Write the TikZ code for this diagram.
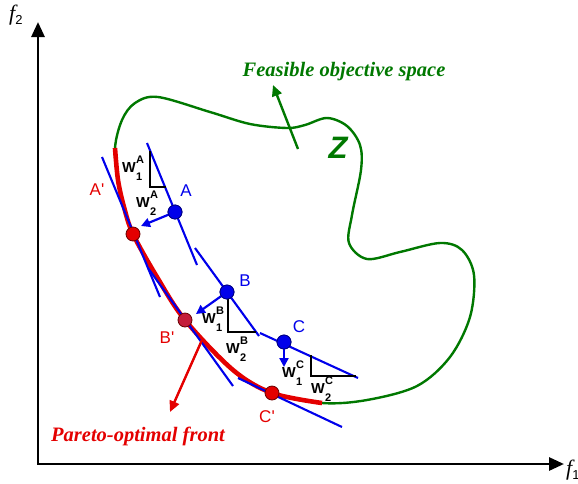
\documentclass[tikz,border=0pt]{standalone}
\usepackage{fontspec}
\setmainfont{Liberation Serif}
\newfontfamily\arialf{Liberation Sans}
\usetikzlibrary{arrows.meta}
\definecolor{pblue}{RGB}{0,0,235}
\definecolor{pred}{RGB}{228,0,0}
\definecolor{pgreen}{RGB}{0,120,0}
\definecolor{pcrim}{RGB}{196,28,58}
\newcommand\wlab[2]{W\kern0.3pt\makebox[0pt][l]{\raisebox{9pt}{\fontsize{11}{11}\selectfont #1}}\raisebox{-8pt}{\fontsize{11}{11}\selectfont #2}}
\begin{document}
\begin{tikzpicture}[x=1pt,y=-1pt,
  axisline/.style={line width=2.8pt,{Triangle[length=15pt,width=13pt]}-{Triangle[length=15pt,width=13pt]}},
  bline/.style={pblue,line width=2.1pt},
  tri/.style={black,line width=2pt},
  barrow/.style={pblue,line width=2.2pt,-{Triangle[length=9pt,width=9pt]}},
  bpt/.style={circle,fill=pblue,draw=pblue!55!black,line width=0.8pt,minimum size=14pt,inner sep=0pt},
  rpt/.style={circle,fill=pred,draw=pred!45!black,line width=0.8pt,minimum size=14pt,inner sep=0pt},
  lblB/.style={text=pblue,font=\arialf\fontsize{17}{17}\selectfont,inner sep=0pt},
  lblR/.style={text=pred,font=\arialf\fontsize{17}{17}\selectfont,inner sep=0pt},
  wl/.style={font=\arialf\bfseries\fontsize{14.5}{14.5}\selectfont,inner sep=0pt,anchor=base west},
  big/.style={font=\bfseries\itshape\fontsize{20.5}{20.5}\selectfont,inner sep=0pt,anchor=base}
]
\useasboundingbox (0,0) rectangle (578,483);
% axes
\coordinate (vtip) at (38,22);
\coordinate (htip) at (564,464);
\draw[axisline] (vtip) |- (htip);
\node[anchor=base west,inner sep=0pt] (f2) at (9,20) {\fontsize{22}{22}\selectfont\itshape f\raisebox{-4pt}{\upshape\arialf\fontsize{13}{13}\selectfont 2}};
\node[anchor=base west,inner sep=0pt] (f1) at (566,475) {\fontsize{22}{22}\selectfont\itshape f\raisebox{-4pt}{\upshape\arialf\fontsize{13}{13}\selectfont 1}};
% feasible region boundary
\draw[pgreen,line width=2.4pt] plot[smooth cycle,tension=0.55] coordinates {
(115,148) (122,120) (135,103) (158,97) (210,112) (250,124) (287,128) (305,125) (327,118) (347,126) (360,145) (361,170) (352,215) (349,243) (367,259) (400,252) (440,243) (462,250) (474,275) (470,317) (450,357) (417,386) (367,400) (322,403) (272,393) (233,370) (185,320) (157,277) (133,234) (124,207) (118,180)};
% Pareto front
\draw[pred,line width=4.6pt] plot[smooth,tension=0.55] coordinates {
(115,148) (118,180) (124,207) (133,234) (157,277) (185,320) (233,370) (272,393) (322,403)};
% coordinates for lines
\coordinate (la1) at (147,143); \coordinate (la2) at (197,265);
\coordinate (lb1) at (195,248); \coordinate (lb2) at (259,336);
\coordinate (lc1) at (260,333); \coordinate (lc2) at (358,378);
\coordinate (ta1) at (102,157); \coordinate (ta2) at (160,297);
\coordinate (tb1) at (148,268); \coordinate (tb2) at (233,386);
\coordinate (tc1) at (238,378); \coordinate (tc2) at (342,427);
\draw[bline] (la1) -- (la2);
\draw[bline] (lb1) -- (lb2);
\draw[bline] (lc1) -- (lc2);
\draw[bline] (ta1) -- (ta2);
\draw[bline] (tb1) -- (tb2);
\draw[bline] (tc1) -- (tc2);
% triangles
\coordinate (a1) at (150,151); \coordinate (a2) at (150,187); \coordinate (a3) at (166,187);
\coordinate (b1) at (228,293); \coordinate (b2) at (228,332); \coordinate (b3) at (256,332);
\coordinate (c1) at (311,355); \coordinate (c2) at (311,376); \coordinate (c3) at (356,376);
\draw[tri] (a1) -- (a2) -- (a3);
\draw[tri] (b1) -- (b2) -- (b3);
\draw[tri] (c1) -- (c2) -- (c3);
% arrows
\coordinate (ea) at (141,226);
\coordinate (eb) at (196,314);
\coordinate (ec) at (284,367);
\coordinate (rs) at (202,340); \coordinate (re) at (170,412);
\coordinate (gs) at (298,149); \coordinate (ge) at (273,85);
\node[bpt] (A) at (175,212) {};
\node[bpt] (B) at (227,292) {};
\node[bpt] (C) at (284,342) {};
\draw[barrow] (A.center) -- (ea);
\draw[barrow] (B.center) -- (eb);
\draw[barrow] (C.center) -- (ec);
\node[bpt] at (A) {};
\node[bpt] at (B) {};
\node[bpt] at (C) {};
\draw[pred,line width=2.4pt,-{Triangle[length=11pt,width=10pt]}] (rs) -- (re);
\draw[pgreen,line width=2.4pt,-{Triangle[length=11pt,width=10pt]}] (gs) -- (ge);
% Pareto points
\node[rpt] (Ap) at (133,234) {};
\node[rpt,fill=pcrim] (Bp) at (185,320) {};
\node[rpt] (Cp) at (272,393) {};
% labels
\node[lblB] (lA) at (186,191) {A};
\node[lblB] (lB) at (245,281) {B};
\node[lblB] (lC) at (299,327) {C};
\node[lblR] (lAp) at (97,190) {A'};
\node[lblR] (lBp) at (167,338) {B'};
\node[lblR] (lCp) at (267,417) {C'};
\node[wl] (w1a) at (122,172) {\wlab{A}{1}};
\node[wl] (w2a) at (136,207) {\wlab{A}{2}};
\node[wl] (w1b) at (202,323) {\wlab{B}{1}};
\node[wl] (w2b) at (226,353) {\wlab{B}{2}};
\node[wl] (w1c) at (282,377) {\wlab{C}{1}};
\node[wl] (w2c) at (311,393) {\wlab{C}{2}};
\node[big,text=pgreen] (feas) at (344,76) {Feasible objective space};
\node[big,text=pred] (par) at (138,441) {Pareto-optimal front};
\node[text=pgreen,font=\arialf\bfseries\itshape\fontsize{31}{31}\selectfont,inner sep=0pt] (Z) at (338,148) {Z};
\end{tikzpicture}
\end{document}
